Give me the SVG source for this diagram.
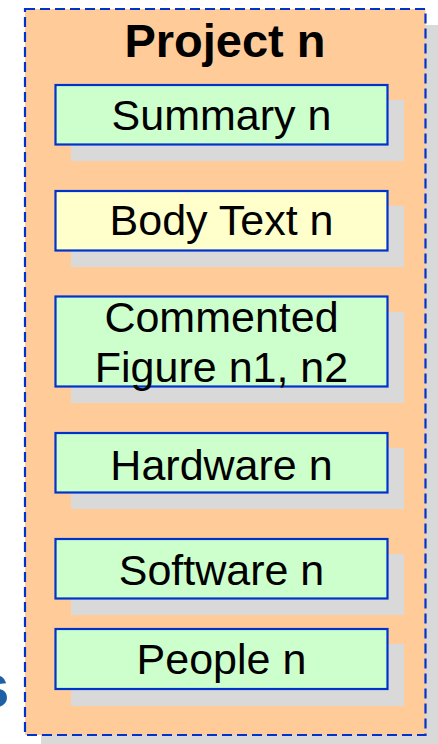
<svg xmlns="http://www.w3.org/2000/svg" width="438" height="744" viewBox="0 0 438 744">
<style>
.shadow{fill:#d9d9d9;stroke:none}
.box{stroke:#0033cc;stroke-width:2.2}
.green{fill:#ccffcc}
.yellow{fill:#ffffcc}
.label{font-family:"Liberation Sans",Arial,sans-serif;font-size:43px;fill:#000;text-anchor:middle}
.title{font-family:"Liberation Sans",Arial,sans-serif;font-size:47px;font-weight:bold;fill:#000;text-anchor:middle}
</style>
<rect width="438" height="744" fill="#ffffff"/>
<g id="edge-s">
<text x="-25" y="707" style="font-family:'Liberation Sans',Arial,sans-serif;font-size:62px;font-weight:bold;fill:#1f5fa5">s</text>
</g>
<g id="project">
<rect class="shadow" x="41" y="25" width="400" height="722"/>
<rect x="25" y="9" width="400.5" height="726" fill="#ffcc99" stroke="#0033cc" stroke-width="2.2" stroke-dasharray="10 5"/>
<text class="title" x="225" y="57">Project n</text>
</g>
<g id="summary">
<rect class="shadow" x="71" y="100" width="333" height="61"/>
<rect class="box green" x="55.5" y="85" width="332" height="59.5"/>
<text class="label" x="221.5" y="130">Summary n</text>
</g>
<g id="body-text">
<rect class="shadow" x="71" y="206" width="333" height="61"/>
<rect class="box yellow" x="55.5" y="191" width="332" height="59.5"/>
<text class="label" x="221.5" y="235">Body Text n</text>
</g>
<g id="commented-figure">
<rect class="shadow" x="71" y="312" width="333" height="91"/>
<rect class="box green" x="55.5" y="296.5" width="332" height="90"/>
<text class="label" x="221.5" y="332">Commented</text>
<text class="label" x="221.5" y="382">Figure n1, n2</text>
</g>
<g id="hardware">
<rect class="shadow" x="71" y="448" width="333" height="61"/>
<rect class="box green" x="55.5" y="433" width="332" height="59.5"/>
<text class="label" x="221.5" y="480">Hardware n</text>
</g>
<g id="software">
<rect class="shadow" x="71" y="554" width="333" height="61"/>
<rect class="box green" x="55.5" y="539" width="332" height="59.5"/>
<text class="label" x="221.5" y="585">Software n</text>
</g>
<g id="people">
<rect class="shadow" x="71" y="644" width="333" height="62"/>
<rect class="box green" x="55.5" y="629" width="332" height="60"/>
<text class="label" x="221.5" y="674">People n</text>
</g>
<g id="connectors"></g>
</svg>
